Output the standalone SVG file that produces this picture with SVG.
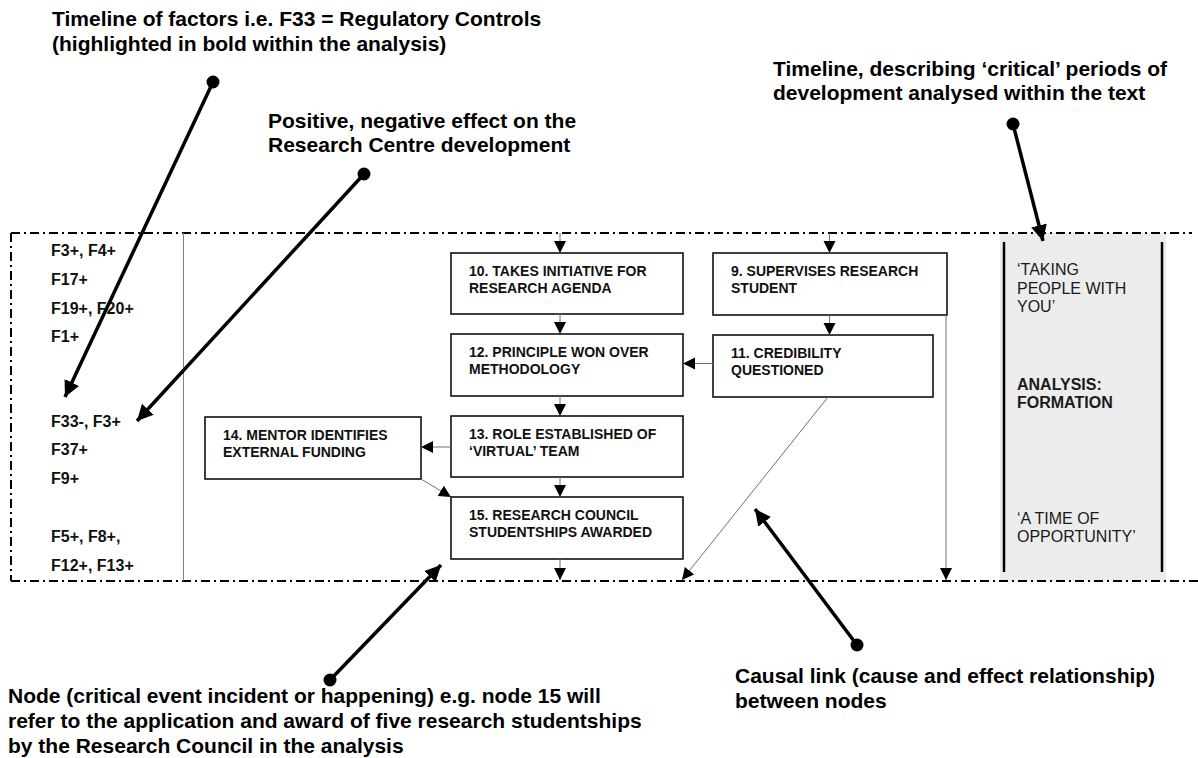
<svg xmlns="http://www.w3.org/2000/svg" width="1198" height="758" viewBox="0 0 1198 758">
  <style>
    .frame { fill: none; stroke: #000; stroke-width: 2; stroke-dasharray: 9 4 2 4; }
    .node rect { fill: #fff; stroke: #111; stroke-width: 1.6; }
    .node text { font-family: "Liberation Sans", Arial, sans-serif; font-size: 14px; font-weight: bold; fill: #111; }
    .factor { font-family: "Liberation Sans", Arial, sans-serif; font-size: 16px; font-weight: bold; fill: #111; }
    .period { font-family: "Liberation Sans", Arial, sans-serif; font-size: 16px; fill: #1a1a1a; }
    .period-b { font-family: "Liberation Sans", Arial, sans-serif; font-size: 16px; font-weight: bold; fill: #1a1a1a; }
    .note { font-family: "Liberation Sans", Arial, sans-serif; font-size: 21px; font-weight: bold; fill: #000; }
    .link { fill: none; stroke: #707070; stroke-width: 1; marker-end: url(#head); }
    .pointer { fill: none; stroke: #000; stroke-width: 3.5; marker-end: url(#bighead); }
  </style>
  <defs>
    <marker id="head" markerUnits="userSpaceOnUse" markerWidth="14" markerHeight="14" refX="12" refY="6" orient="auto">
      <path d="M0,0 L12,6 L0,12 z" fill="#000"/>
    </marker>
    <marker id="bighead" markerUnits="userSpaceOnUse" markerWidth="20" markerHeight="20" refX="16" refY="8" orient="auto">
      <path d="M0,0 L16,8 L0,16 z" fill="#000"/>
    </marker>
  </defs>

  <rect width="1198" height="758" fill="#fff"/>

  <!-- period panel -->
  <g id="period-panel">
    <rect x="1000" y="233" width="166" height="348" fill="#ececec"/>
    <line x1="1004" y1="242" x2="1004" y2="572" stroke="#000" stroke-width="2.5"/>
    <line x1="1162" y1="242" x2="1162" y2="572" stroke="#000" stroke-width="2.5"/>
    <text class="period" x="1017" y="275">‘TAKING</text>
    <text class="period" x="1017" y="294">PEOPLE WITH</text>
    <text class="period" x="1017" y="312">YOU’</text>
    <text class="period-b" x="1017" y="390">ANALYSIS:</text>
    <text class="period-b" x="1017" y="408">FORMATION</text>
    <text class="period" x="1017" y="524">‘A TIME OF</text>
    <text class="period" x="1017" y="542">OPPORTUNITY’</text>
  </g>

  <!-- timeline frame -->
  <g id="frame">
    <line class="frame" x1="11" y1="233" x2="1192" y2="233"/>
    <line class="frame" x1="11" y1="581" x2="1198" y2="581"/>
    <line class="frame" x1="11" y1="233" x2="11" y2="581"/>
    <line x1="183.5" y1="233" x2="183.5" y2="581" stroke="#808080" stroke-width="1"/>
  </g>

  <!-- factor timeline -->
  <g id="factors">
    <text class="factor" x="51" y="256">F3+, F4+</text>
    <text class="factor" x="51" y="285">F17+</text>
    <text class="factor" x="51" y="314">F19+, F20+</text>
    <text class="factor" x="51" y="342">F1+</text>
    <text class="factor" x="51" y="427">F33-, F3+</text>
    <text class="factor" x="51" y="455">F37+</text>
    <text class="factor" x="51" y="484">F9+</text>
    <text class="factor" x="51" y="542">F5+, F8+,</text>
    <text class="factor" x="51" y="571">F12+, F13+</text>
  </g>

  <!-- nodes -->
  <g id="node-10" class="node">
    <rect x="451" y="253" width="232" height="61"/>
    <text x="469" y="276">10. TAKES INITIATIVE FOR</text>
    <text x="469" y="293">RESEARCH AGENDA</text>
  </g>
  <g id="node-9" class="node">
    <rect x="713" y="253" width="234" height="62"/>
    <text x="731" y="276">9. SUPERVISES RESEARCH</text>
    <text x="731" y="293">STUDENT</text>
  </g>
  <g id="node-12" class="node">
    <rect x="451" y="334" width="232" height="62"/>
    <text x="469" y="357">12. PRINCIPLE WON OVER</text>
    <text x="469" y="374">METHODOLOGY</text>
  </g>
  <g id="node-11" class="node">
    <rect x="713" y="335" width="220" height="62"/>
    <text x="731" y="358">11. CREDIBILITY</text>
    <text x="731" y="375">QUESTIONED</text>
  </g>
  <g id="node-13" class="node">
    <rect x="451" y="416" width="232" height="61"/>
    <text x="469" y="439">13. ROLE ESTABLISHED OF</text>
    <text x="469" y="456">‘VIRTUAL’ TEAM</text>
  </g>
  <g id="node-14" class="node">
    <rect x="205" y="417" width="216" height="62"/>
    <text x="223" y="440">14. MENTOR IDENTIFIES</text>
    <text x="223" y="457">EXTERNAL FUNDING</text>
  </g>
  <g id="node-15" class="node">
    <rect x="451" y="497" width="232" height="62"/>
    <text x="469" y="520">15. RESEARCH COUNCIL</text>
    <text x="469" y="537">STUDENTSHIPS AWARDED</text>
  </g>

  <!-- causal links -->
  <g id="connectors">
    <line class="link" x1="560" y1="233" x2="560" y2="253"/>
    <line class="link" x1="560" y1="314" x2="560" y2="334"/>
    <line class="link" x1="560" y1="396" x2="560" y2="416"/>
    <line class="link" x1="560" y1="477" x2="560" y2="497"/>
    <line class="link" x1="560" y1="559" x2="560" y2="580"/>
    <line class="link" x1="829.5" y1="233" x2="829.5" y2="253"/>
    <line class="link" x1="829.5" y1="315" x2="829.5" y2="335"/>
    <line class="link" x1="713" y1="363.5" x2="683" y2="363.5"/>
    <line class="link" x1="451" y1="447" x2="421" y2="447"/>
    <line class="link" x1="421" y1="479" x2="451" y2="497"/>
    <line class="link" x1="828" y1="397" x2="682" y2="580"/>
    <line class="link" x1="946" y1="315" x2="946" y2="580"/>
  </g>

  <!-- explanatory callouts -->
  <g id="callouts">
    <text class="note" x="52" y="26">Timeline of factors i.e. F33 = Regulatory Controls</text>
    <text class="note" x="52" y="51">(highlighted in bold within the analysis)</text>
    <circle cx="213" cy="82" r="6.5"/>
    <line class="pointer" x1="213" y1="82" x2="65" y2="397"/>

    <text class="note" x="268" y="128">Positive, negative effect on the</text>
    <text class="note" x="268" y="152">Research Centre development</text>
    <circle cx="364" cy="174" r="6.5"/>
    <line class="pointer" x1="364" y1="174" x2="137" y2="421"/>

    <text class="note" x="773" y="76">Timeline, describing ‘critical’ periods of</text>
    <text class="note" x="773" y="100">development analysed within the text</text>
    <circle cx="1013" cy="124" r="6.5"/>
    <line class="pointer" x1="1013" y1="124" x2="1043" y2="241"/>

    <circle cx="330" cy="680" r="6.5"/>
    <line class="pointer" x1="330" y1="680" x2="441" y2="565"/>
    <text class="note" x="8" y="703">Node (critical event incident or happening) e.g. node 15 will</text>
    <text class="note" x="8" y="728">refer to the application and award of five research studentships</text>
    <text class="note" x="8" y="753">by the Research Council in the analysis</text>

    <circle cx="857" cy="645" r="6.5"/>
    <line class="pointer" x1="857" y1="645" x2="755" y2="509"/>
    <text class="note" x="735" y="683">Causal link (cause and effect relationship)</text>
    <text class="note" x="735" y="708">between nodes</text>
  </g>
</svg>
